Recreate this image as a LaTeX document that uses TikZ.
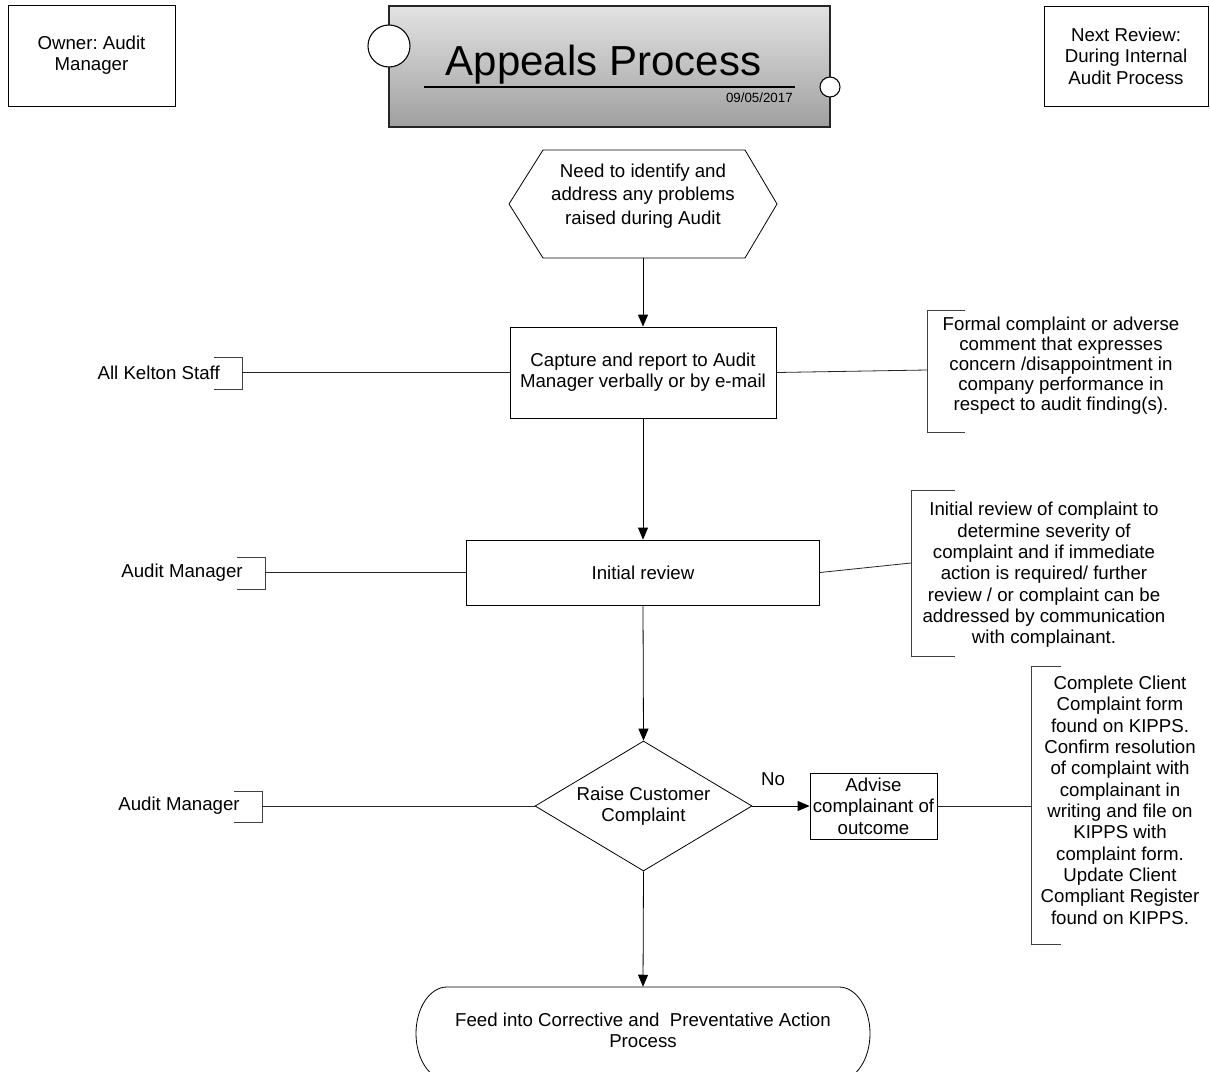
\documentclass[tikz,border=0pt]{standalone}
\usepackage{fontspec}
\setmainfont{Liberation Sans}
\usetikzlibrary{shapes.geometric,arrows.meta}
\begin{document}
\frenchspacing
\begin{tikzpicture}[x=0.75pt,y=-0.75pt,
  every node/.style={font=\fontsize{14pt}{16pt}\selectfont, inner sep=0pt},
  box/.style={draw=black, line width=0.6pt, align=center},
  txt/.style={align=center},
  link/.style={draw=black!85, line width=0.6pt},
  brk/.style={draw=black!75, line width=0.6pt},
  flow/.style={draw=black, line width=0.6pt, -{Triangle[length=9pt,width=7.5pt]}},
]
\useasboundingbox (0,0) rectangle (1210,1071);
\clip (0,0) rectangle (1210,1071);
\fill[white] (0,0) rectangle (1210,1071);

% header boxes
\node[box, minimum width=125.25pt, minimum height=75.75pt] (owner) at (91.5,55.5) {Owner: Audit\\Manager};
\node[box, minimum width=123pt, minimum height=75pt] (next) at (1126,56) {Next Review:\\During Internal\\Audit Process};

% title block
\node[draw=black!85, line width=1.2pt, top color=gray!22, bottom color=gray!75,
      minimum width=330.75pt, minimum height=90.75pt] (titlebox) at (609.5,66.5) {};
\draw[line width=0.8pt] (424,87) -- (795,87);
\node[font=\fontsize{31.5pt}{36pt}\selectfont, anchor=base] (title) at (603.5,75) {Appeals Process};
\node[font=\fontsize{10pt}{11pt}\selectfont, anchor=base east] (date) at (793,102) {09/05/2017};
\node[circle, draw, line width=0.8pt, fill=white, minimum size=31.5pt] (cl) at (389,46) {};
\node[circle, draw, line width=0.8pt, fill=white, minimum size=15pt] (cr) at (830,87) {};

% hexagon
\node[minimum width=201pt, minimum height=81pt] (hex) at (643,204) {};
\draw[line width=0.6pt] (509,204) -- (543,150) -- (745,150) -- (777,204) -- (745,258) -- (543,258) -- cycle;
\node[txt, font=\fontsize{14pt}{17.6pt}\selectfont] (hext) at (643,196) {Need to identify and\\address any problems\\raised during Audit};

% main flow nodes
\node[box, minimum width=199.5pt, minimum height=68.25pt] (cap) at (643,372.5) {Capture and report to Audit\\Manager verbally or by e-mail};
\node[box, minimum width=264.75pt, minimum height=48.75pt] (init) at (643,572.5) {Initial review};
\node[diamond, draw, line width=0.6pt, minimum width=162.75pt, minimum height=97.5pt, aspect=1.67, align=center] (dec) at (643.5,806) {Raise Customer\\Complaint};
\node[box, minimum width=95.25pt, minimum height=49.5pt] (adv) at (873.5,806) {Advise\\complainant of\\outcome};
\node (no) at (773,779) {No};

% terminator
\node[minimum width=340.5pt, minimum height=69.75pt] (term) at (643,1033.5) {};
\draw[line width=0.6pt] (447,987) -- (839,987) arc[start angle=90,end angle=-90,x radius=23.25pt,y radius=34.875pt]
  -- (447,1080) arc[start angle=270,end angle=90,x radius=23.25pt,y radius=34.875pt] -- cycle;
\node[txt] (termt) at (643,1030) {Feed into Corrective and\ \ Preventative Action\\Process};

% flow arrows
\draw[flow] (hex.south) -- (cap.north);
\draw[flow] (cap.south) -- (init.north);
\draw[flow] (init.south) -- (dec.north);
\draw[flow] (dec.south) -- (term.north);
\draw[flow] (dec.east) -- (adv.west);

% left annotations
\node[anchor=east] (l1) at (220,373) {All Kelton Staff};
\draw[brk] (214,357) -- (242,357) -- (242,389) -- (214,389);
\coordinate (bl1) at (242,372.5);
\draw[link] (bl1) -- (cap.west);

\node[anchor=east] (l2) at (243,573) {Audit Manager};
\draw[brk] (237,557) -- (265,557) -- (265,589) -- (237,589);
\coordinate (bl2) at (265,572.5);
\draw[link] (bl2) -- (init.west);

\node[anchor=east] (l3) at (240,806) {Audit Manager};
\draw[brk] (234,791) -- (262,791) -- (262,822) -- (234,822);
\coordinate (bl3) at (262,806);
\draw[link] (bl3) -- (dec.west);

% right annotations
\node[txt, font=\fontsize{14pt}{15pt}\selectfont] (r1) at (1061,366) {Formal complaint or adverse\\comment that expresses\\concern /disappointment in\\company performance in\\respect to audit finding(s).};
\draw[brk] (965,310) -- (927,310) -- (927,432) -- (965,432);
\coordinate (br1) at (927,370);
\draw[link] (cap.east) -- (br1);

\node[txt] (r2) at (1044,575) {Initial review of complaint to\\determine severity of\\complaint and if immediate\\action is required/ further\\review / or complaint can be\\addressed by communication\\with complainant.};
\draw[brk] (955,490) -- (911,490) -- (911,656) -- (955,656);
\coordinate (br2) at (911,563);
\draw[link] (init.east) -- (br2);

\node[txt] (r3) at (1120,800) {Complete Client\\Complaint form\\found on KIPPS.\\Confirm resolution\\of complaint with\\complainant in\\writing and file on\\KIPPS with\\complaint form.\\Update Client\\Compliant Register\\found on KIPPS.};
\draw[brk] (1061,666) -- (1031,666) -- (1031,944) -- (1061,944);
\coordinate (br3) at (1031,806);
\draw[link] (adv.east) -- (br3);
\end{tikzpicture}
\end{document}
